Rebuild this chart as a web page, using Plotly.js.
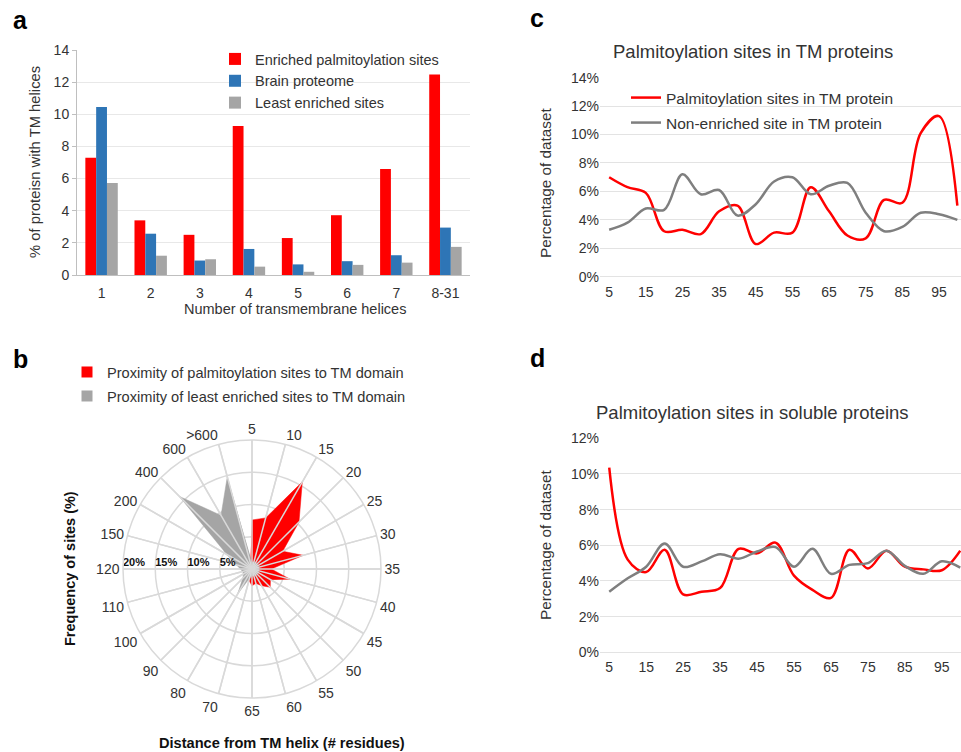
<!DOCTYPE html>
<html><head><meta charset="utf-8">
<script src="https://cdn.plot.ly/plotly-3.0.1.min.js"></script>
<style>html,body{margin:0;padding:0;background:#fff}#chart{width:961px;height:752px}</style>
</head><body><div id="chart"></div>
<script>
// ---- Panel a: TM helix counts ----
const helixCategories = ['1','2','3','4','5','6','7','8-31'];
const enrichedSites = [7.3, 3.4, 2.5, 9.27, 2.3, 3.72, 6.6, 12.47];
const brainProteome = [10.45, 2.57, 0.9, 1.62, 0.66, 0.86, 1.23, 2.95];
const leastEnriched = [5.73, 1.2, 0.98, 0.52, 0.2, 0.63, 0.77, 1.75];

// ---- Panel b: proximity to TM domain (radar) ----
const distanceCategories = ['5','10','15','20','25','30','35','40','45','50','55','60','65','70','80','90','100','110','120','150','200','400','600','>600'];
const palmProximity  = [7.6, 8.2, 15.6, 10.3, 5.5, 8.2, 3.0, 6.1, 3.3, 4.0, 3.0, 2.3, 2.6, 1.8, 1.0, 1.0, 1.0, 1.0, 1.0, 1.0, 1.0, 1.0, 1.0, 1.0];
const leastProximity = [1.1, 1.1, 1.1, 1.1, 1.1, 1.1, 1.1, 1.1, 1.1, 1.1, 1.1, 1.1, 1.1, 1.5, 4.4, 2.0, 1.5, 1.5, 1.8, 2.5, 4.5, 15.9, 9.6, 14.8];
const radialTickVals = [5, 10, 15, 20];
const radialTickText = ['5%', '10%', '15%', '20%'];
const radialLabelCategory = '120';

// ---- Panels c & d: position bins ----
const positionBins = [5,10,15,20,25,30,35,40,45,50,55,60,65,70,75,80,85,90,95,100];
const positionTicks = [5,15,25,35,45,55,65,75,85,95];
const tmPalm        = [7.0, 6.3, 5.9, 3.2, 3.3, 3.0, 4.6, 5.0, 2.3, 3.1, 3.1, 6.3, 4.6, 2.9, 2.7, 5.4, 5.2, 10.1, 11.3, 5.0];
const tmNonEnriched = [3.3, 3.8, 4.8, 4.7, 7.2, 5.8, 6.1, 4.3, 5.1, 6.7, 7.0, 5.8, 6.4, 6.6, 4.5, 3.2, 3.5, 4.5, 4.4, 4.0];
const solPalm        = [10.35, 5.2, 4.5, 5.75, 3.25, 3.4, 3.6, 5.8, 5.55, 6.15, 4.3, 3.5, 3.05, 5.75, 4.7, 5.7, 4.8, 4.65, 4.6, 5.7];
const solNonEnriched = [3.4, 4.15, 4.8, 6.1, 4.8, 5.1, 5.5, 5.25, 5.65, 5.9, 4.8, 5.8, 4.4, 4.9, 5.0, 5.7, 4.85, 4.4, 5.1, 4.75];

const W = 961, H = 752;
const px = x => x / W;
const py = y => 1 - y / H;
const RED = '#ff0000', BLUE = '#2e75b6', GRAY = '#a5a5a5', DGRAY = '#7f7f7f';
const TXT = '#333333';
const FAM = 'Liberation Sans, Arial, sans-serif';

// spokes drawn above fills
const spokeR = [], spokeT = [];
distanceCategories.forEach(c => { spokeR.push(0, 20, null); spokeT.push(c, c, null); });

const traces = [
  {type:'bar', x:helixCategories, y:enrichedSites, name:'Enriched palmitoylation sites', marker:{color:RED}, xaxis:'x', yaxis:'y', legend:'legend'},
  {type:'bar', x:helixCategories, y:brainProteome, name:'Brain proteome', marker:{color:BLUE}, xaxis:'x', yaxis:'y', legend:'legend'},
  {type:'bar', x:helixCategories, y:leastEnriched, name:'Least enriched sites', marker:{color:GRAY}, xaxis:'x', yaxis:'y', legend:'legend'},

  {type:'scatterpolar', subplot:'polar', r:palmProximity, theta:distanceCategories, mode:'lines', fill:'toself',
   fillcolor:RED, line:{color:RED, width:0.5}, name:'Proximity of palmitoylation sites to TM domain', showlegend:false},
  {type:'scatterpolar', subplot:'polar', r:leastProximity, theta:distanceCategories, mode:'lines', fill:'toself',
   fillcolor:GRAY, line:{color:GRAY, width:0.5}, name:'Proximity of least enriched sites to TM domain', showlegend:false},
  {type:'scatterpolar', subplot:'polar', r:spokeR, theta:spokeT, mode:'lines', line:{color:'#d9d9d9', width:1.5},
   showlegend:false, hoverinfo:'skip', connectgaps:false},
  {type:'scatterpolar', subplot:'polar', r:radialTickVals, theta:radialTickVals.map(() => radialLabelCategory),
   mode:'text', text:radialTickText, textposition:'top right',
   showlegend:false, hoverinfo:'skip', textfont:{family:FAM, size:11, color:'#111', weight:'bold'}},
  // legend keys for the radar (square swatches)
  {type:'scatterpolar', subplot:'polar', r:[null], theta:[null], mode:'markers', marker:{symbol:'square', size:11, color:RED},
   name:'Proximity of palmitoylation sites to TM domain', legend:'legend2'},
  {type:'scatterpolar', subplot:'polar', r:[null], theta:[null], mode:'markers', marker:{symbol:'square', size:11, color:GRAY},
   name:'Proximity of least enriched sites to TM domain', legend:'legend4'},

  {type:'scatter', x:positionBins, y:tmPalm, mode:'lines', line:{color:RED, width:2.5, shape:'spline', smoothing:1},
   name:'Palmitoylation sites in TM protein', xaxis:'x2', yaxis:'y2', legend:'legend3'},
  {type:'scatter', x:positionBins, y:tmNonEnriched, mode:'lines', line:{color:DGRAY, width:2.5, shape:'spline', smoothing:1},
   name:'Non-enriched site in TM protein', xaxis:'x2', yaxis:'y2', legend:'legend5'},

  {type:'scatter', x:positionBins, y:solPalm, mode:'lines', line:{color:RED, width:2.5, shape:'spline', smoothing:1},
   name:'Palmitoylation sites (soluble)', xaxis:'x3', yaxis:'y3', showlegend:false},
  {type:'scatter', x:positionBins, y:solNonEnriched, mode:'lines', line:{color:DGRAY, width:2.5, shape:'spline', smoothing:1},
   name:'Non-enriched sites (soluble)', xaxis:'x3', yaxis:'y3', showlegend:false}
];

const tickFont = {family:FAM, size:14, color:TXT};
const ann = (text, x, y, opts={}) => Object.assign({text, x:px(x), y:py(y), xref:'paper', yref:'paper', showarrow:false,
  xanchor:'center', yanchor:'middle', font:{family:FAM, size:14, color:TXT}}, opts);
const leg = (x, y, size) => ({x:px(x), y:py(y), xanchor:'left', yanchor:'top', bgcolor:'rgba(0,0,0,0)', itemwidth:30,
  font:{family:FAM, size:size, color:TXT}, traceorder:'normal'});
const f = (size, extra={}) => Object.assign({family:FAM, size:size, color:TXT}, extra);

const layout = {
  width:W, height:H, margin:{l:0, r:0, t:0, b:0},
  paper_bgcolor:'#ffffff', plot_bgcolor:'#ffffff',
  font:{family:FAM, size:14, color:TXT},
  barmode:'group', bargap:0.34, bargroupgap:0,
  xaxis:{domain:[px(77), px(470)], anchor:'y', type:'category', showline:true, linecolor:'#bfbfbf', linewidth:1,
         ticks:'', tickfont:tickFont, showgrid:false, ticklabelstandoff:5},
  yaxis:{domain:[py(275), py(50)], anchor:'x', range:[0,14], dtick:2, showline:true, linecolor:'#bfbfbf',
         gridcolor:'#e8e8e8', ticks:'outside', ticklen:4, tickcolor:'#bfbfbf', tickfont:tickFont, zeroline:false},
  xaxis2:{domain:[px(600), 1], anchor:'y2', range:[2.5, 101], tickvals:positionTicks, ticks:'', showgrid:false,
          zeroline:false, showline:false, tickfont:tickFont, ticklabelstandoff:5},
  yaxis2:{domain:[py(276.7), py(77.7)], anchor:'x2', range:[0,14], dtick:2, ticksuffix:'%', ticks:'',
          gridcolor:'#e3e3e3', zeroline:true, zerolinecolor:'#e3e3e3', tickfont:tickFont},
  xaxis3:{domain:[px(600), 1], anchor:'y3', range:[2.5, 100.2], tickvals:positionTicks, ticks:'', showgrid:false,
          zeroline:false, showline:false, tickfont:tickFont, ticklabelstandoff:5},
  yaxis3:{domain:[py(652.3), py(438.3)], anchor:'x3', range:[0,12], dtick:2, ticksuffix:'%', ticks:'',
          gridcolor:'#e3e3e3', zeroline:true, zerolinecolor:'#e3e3e3', tickfont:tickFont},
  polar:{
    domain:{x:[px(123), px(381)], y:[py(698), py(440)]},
    bgcolor:'rgba(0,0,0,0)',
    angularaxis:{type:'category', categoryarray:distanceCategories, rotation:90, direction:'clockwise',
                 gridcolor:'#d9d9d9', gridwidth:1.5, showline:true, linecolor:'#d9d9d9', linewidth:1.5, ticks:'',
                 tickfont:f(14)},
    radialaxis:{range:[0,20], tickvals:radialTickVals, angle:180, showline:false, showticklabels:false,
                gridcolor:'#d9d9d9', gridwidth:1.5, ticks:''}
  },
  legend: leg(215, 43, 14.5),
  legend2: leg(67, 356, 14.6),
  legend4: leg(67, 380, 14.6),
  legend3: leg(626, 81, 15.5),
  legend5: leg(626, 106, 15.5),
  annotations:[
    ann('a', 20, 20, {font:f(25, {color:'#000', weight:'bold'})}),
    ann('b', 20, 359, {font:f(25, {color:'#000', weight:'bold'})}),
    ann('c', 537, 18, {font:f(25, {color:'#000', weight:'bold'})}),
    ann('d', 537, 358, {font:f(25, {color:'#000', weight:'bold'})}),
    ann('% of proteisn with TM helices', 35, 162, {textangle:-90, font:f(14.8)}),
    ann('Number of transmembrane helices', 295, 309, {font:f(14.5)}),
    ann('Palmitoylation sites in TM proteins', 753, 51, {font:f(18.5)}),
    ann('Percentage of dataset', 545, 183, {textangle:-90, font:f(15.3)}),
    ann('Palmitoylation sites in soluble proteins', 752, 412, {font:f(18.5)}),
    ann('Percentage of dataset', 545, 545, {textangle:-90, font:f(15.3)}),
    ann('Frequency of sites (%)', 70, 569, {textangle:-90, font:f(14.5, {color:'#111', weight:'bold'})}),
    ann('Distance from TM helix (# residues)', 282, 743, {font:f(14.6, {color:'#111', weight:'bold'})})
  ]
};

Plotly.newPlot('chart', traces, layout, {displayModeBar:false, staticPlot:true});
</script></body></html>
